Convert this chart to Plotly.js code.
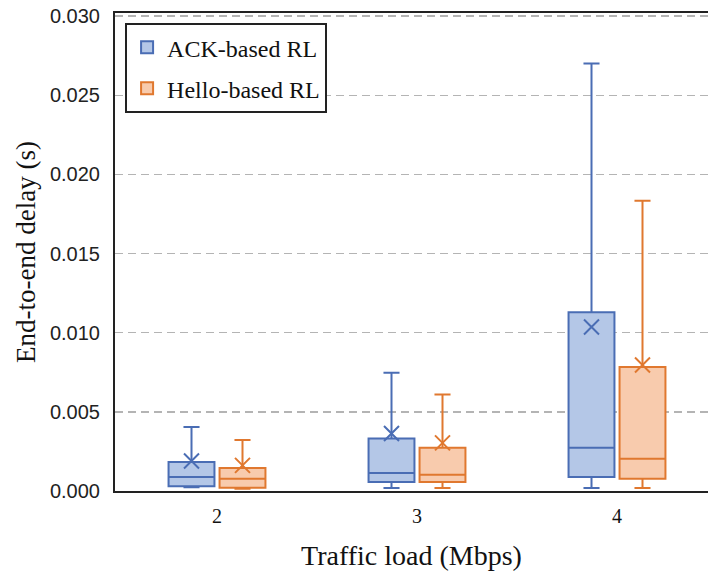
<!DOCTYPE html>
<html>
<head>
<meta charset="utf-8">
<script src="https://cdn.plot.ly/plotly-3.0.1.min.js"></script>
<style>html,body{margin:0;padding:0;background:#fff;}#chart{width:708px;height:578px;}</style>
</head>
<body>
<div id="chart"></div>
<script>
// Data
var categories = ['2', '3', '4'];
var seriesNames = ['ACK-based RL', 'Hello-based RL'];

var ackLower  = [0.00023, 0.00019, 0.00019];
var ackQ1     = [0.00030, 0.00057, 0.00089];
var ackMedian = [0.00089, 0.00114, 0.00274];
var ackQ3     = [0.00184, 0.00331, 0.01129];
var ackUpper  = [0.00405, 0.00747, 0.02701];
var ackMean   = [0.00190, 0.00363, 0.01036];

var helloLower  = [0.00015, 0.00019, 0.00019];
var helloQ1     = [0.00020, 0.00057, 0.00078];
var helloMedian = [0.00078, 0.00103, 0.00204];
var helloQ3     = [0.00146, 0.00274, 0.00783];
var helloUpper  = [0.00323, 0.00610, 0.01834];
var helloMean   = [0.00162, 0.00304, 0.00796];

var yTickVals = [0, 0.005, 0.010, 0.015, 0.020, 0.025, 0.030];
var yTickText = ['0.000', '0.005', '0.010', '0.015', '0.020', '0.025', '0.030'];

var blueLine = '#4a6db4', blueFill = '#b4c7e7';
var orangeLine = '#e0782f', orangeFill = '#f8cbad';
var serif = 'Liberation Serif, Times New Roman, serif';
var narrow = 'Liberation Sans Narrow, Arial Narrow, Liberation Sans, sans-serif';

function boxTrace(name, lo, q1, med, q3, up, line, fill, grp) {
  return {
    type: 'box', name: name, x: categories,
    lowerfence: lo, q1: q1, median: med, q3: q3, upperfence: up,
    fillcolor: fill, line: {color: line, width: 2},
    whiskerwidth: 0.35, boxpoints: false, hoverinfo: 'skip',
    offsetgroup: grp, legendgroup: grp, showlegend: false
  };
}
function meanTrace(name, mean, line, grp) {
  return {
    type: 'scatter', mode: 'markers', name: name + ' mean', x: categories, y: mean,
    marker: {symbol: 'x-thin', size: 15, color: line, line: {color: line, width: 2}},
    offsetgroup: grp, legendgroup: grp, showlegend: false, hoverinfo: 'skip'
  };
}
function legendTrace(name, line, fill, grp) {
  return {
    type: 'scatter', mode: 'markers', name: name, x: [categories[0]], y: [null],
    xaxis: 'x2',
    marker: {symbol: 'square', size: 16, color: fill, line: {color: line, width: 2}},
    legendgroup: grp, showlegend: true
  };
}

var data = [
  boxTrace(seriesNames[0], ackLower, ackQ1, ackMedian, ackQ3, ackUpper, blueLine, blueFill, 'a'),
  boxTrace(seriesNames[1], helloLower, helloQ1, helloMedian, helloQ3, helloUpper, orangeLine, orangeFill, 'b'),
  meanTrace(seriesNames[0], ackMean, blueLine, 'a'),
  meanTrace(seriesNames[1], helloMean, orangeLine, 'b'),
  legendTrace(seriesNames[0], blueLine, blueFill, 'a'),
  legendTrace(seriesNames[1], orangeLine, orangeFill, 'b')
];

var layout = {
  width: 708, height: 578,
  margin: {l: 115, r: 0, t: 13, b: 87},
  paper_bgcolor: '#fff', plot_bgcolor: '#fff',
  boxmode: 'group', boxgap: 0.49, boxgroupgap: 0.1,
  scattermode: 'group', scattergap: 0.49,
  showlegend: true,
  legend: {
    x: 0.017, y: 0.979, xanchor: 'left', yanchor: 'top',
    bordercolor: '#222', borderwidth: 2, bgcolor: '#fff',
    font: {family: serif, size: 24, color: '#111'},
    tracegroupgap: 7, itemsizing: 'constant'
  },
  xaxis: {
    type: 'category', categoryorder: 'array', categoryarray: categories,
    range: [-0.51, 2.455],
    showline: true, linecolor: '#222', linewidth: 2, mirror: true,
    showgrid: false, zeroline: false, ticks: '',
    tickfont: {family: serif, size: 20, color: '#111'},
    ticklabelstandoff: 6,
    title: {text: 'Traffic load (Mbps)', font: {family: serif, size: 28, color: '#111'}, standoff: 19}
  },
  xaxis2: {
    type: 'category', overlaying: 'x', visible: false, range: [-0.51, 2.455]
  },
  yaxis: {
    range: [0, 0.0302],
    tickvals: yTickVals, ticktext: yTickText,
    showline: true, linecolor: '#222', linewidth: 2,
    showgrid: true, gridcolor: '#b4b4b4', gridwidth: 1.5, griddash: '8px,5px',
    zeroline: false, ticks: '',
    tickfont: {family: narrow, size: 20, color: '#222'},
    ticklabelstandoff: 9,
    title: {text: 'End-to-end delay (s)', font: {family: serif, size: 27, color: '#111'}, standoff: 6}
  }
};

Plotly.newPlot('chart', data, layout, {displayModeBar: false, staticPlot: true});
</script>
</body>
</html>
